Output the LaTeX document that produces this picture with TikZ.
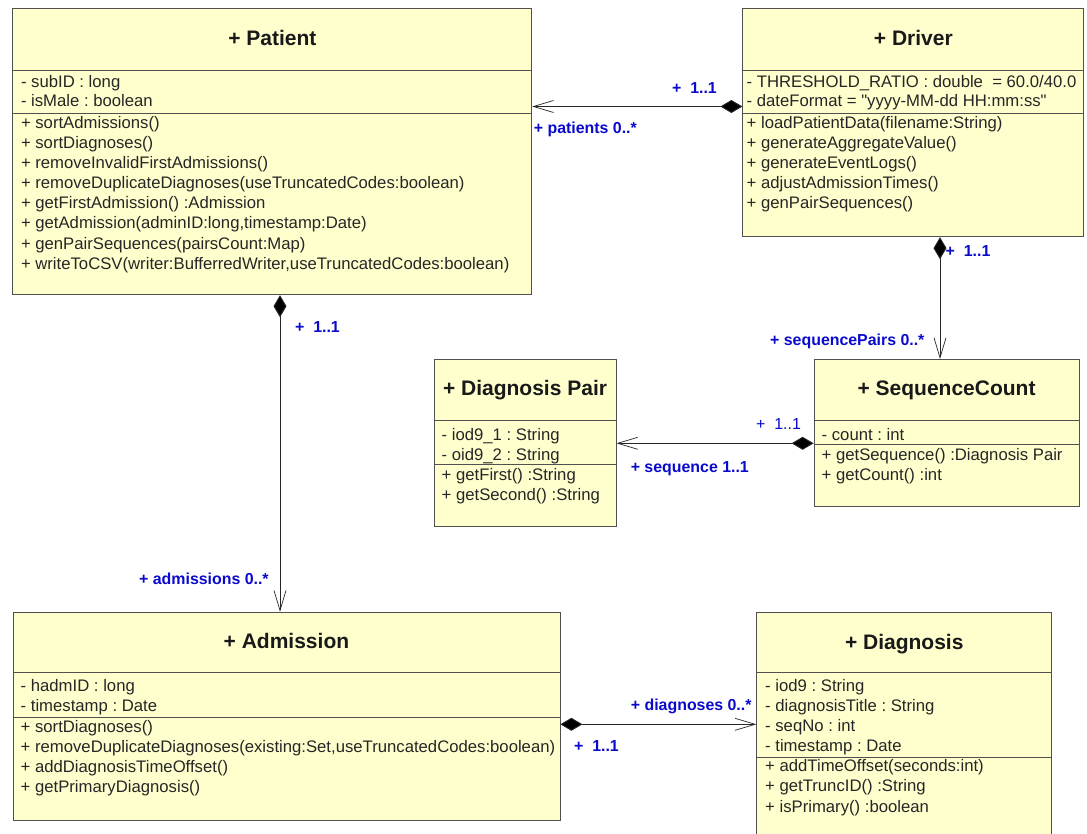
\documentclass[tikz,border=0pt]{standalone}
\usepackage{fontspec}
\setmainfont{Liberation Sans}[Ligatures=TeXOff]
\usetikzlibrary{arrows.meta}
\definecolor{clsfill}{RGB}{255,255,206}
\definecolor{boxgray}{RGB}{80,80,80}
\definecolor{umlblue}{RGB}{10,10,205}
\frenchspacing
\begin{document}
\begin{tikzpicture}[x=1pt,y=-1pt,
  cls/.style={draw=boxgray, fill=clsfill, line width=0.9pt, inner sep=0pt, anchor=north west},
  sepline/.style={draw=boxgray, line width=0.9pt},
  ttl/.style={font=\fontsize{21}{24}\selectfont\bfseries, anchor=base, inner sep=0pt, text=black!90},
  txt/.style={font=\fontsize{16.7}{20}\selectfont, anchor=base west, inner sep=0pt, text=black!85},
  lab/.style={font=\fontsize{15.9}{19}\selectfont\bfseries, anchor=base west, inner sep=0pt, text=umlblue},
  labr/.style={font=\fontsize{15.9}{19}\selectfont, anchor=base west, inner sep=0pt, text=umlblue},
  comp/.style={line width=0.9pt, draw=black!85,
    {Diamond[length=22pt,width=13pt,fill=black]}-{Straight Barb[length=20pt,width=12pt,line width=0.7pt]}}
]
\useasboundingbox (0,0) rectangle (1087,834);
\fill[white] (0,0) rectangle (1087,834);

% ---------- Patient ----------
\node[cls, minimum width=519pt, minimum height=286pt] (patient) at (12.4,8.3) {};
\draw[sepline] (patient.west |- 0,70) -- (patient.east |- 0,70);
\draw[sepline] (patient.west |- 0,113.3) -- (patient.east |- 0,113.3);
\node[ttl] (patientT) at (patient.north |- 0,45.6) {+ Patient};
\foreach \t [count=\i from 0] in {- subID : long, - isMale : boolean}
  \node[txt] (pa\i) at (20.8,87.3+19.6*\i) {\t};
\foreach \t [count=\i from 0] in {+ sortAdmissions(), + sortDiagnoses(), + removeInvalidFirstAdmissions(),
  + removeDuplicateDiagnoses(useTruncatedCodes:boolean), + getFirstAdmission() :Admission,
  {+ getAdmission(adminID:long,timestamp:Date)}, + genPairSequences(pairsCount:Map),
  {+ writeToCSV(writer:BufferredWriter,useTruncatedCodes:boolean)}}
  \node[txt] (pm\i) at (20.8,128.3+20.14*\i) {\t};

% ---------- Driver ----------
\node[cls, minimum width=341pt, minimum height=228pt] (driver) at (742.4,8.3) {};
\draw[sepline] (driver.west |- 0,70) -- (driver.east |- 0,70);
\draw[sepline] (driver.west |- 0,113.3) -- (driver.east |- 0,113.3);
\node[ttl] (driverT) at (driver.north |- 0,45.4) {+ Driver};
\node[txt] (da0) at (746.5,87.3) {- THRESHOLD\_RATIO : double\ \ = 60.0/40.0};
\node[txt] (da1) at (746.5,107) {- dateFormat = "yyyy-MM-dd HH:mm:ss"};
\foreach \t [count=\i from 0] in {+ loadPatientData(filename:String), + generateAggregateValue(),
  + generateEventLogs(), + adjustAdmissionTimes(), + genPairSequences()}
  \node[txt] (dm\i) at (746.5,128.3+20.14*\i) {\t};

% ---------- Diagnosis Pair ----------
\node[cls, minimum width=182pt, minimum height=167pt] (dpair) at (433.6,359) {};
\draw[sepline] (dpair.west |- 0,420.7) -- (dpair.east |- 0,420.7);
\draw[sepline] (dpair.west |- 0,464.3) -- (dpair.east |- 0,464.3);
\node[ttl] (dpairT) at (dpair.north |- 0,395.7) {+ Diagnosis Pair};
\foreach \t [count=\i from 0] in {- iod9\_1 : String, - oid9\_2 : String, + getFirst() :String, + getSecond() :String}
  \node[txt] (dp\i) at (441.5,440+20*\i) {\t};

% ---------- SequenceCount ----------
\node[cls, minimum width=265pt, minimum height=147pt] (seqc) at (813.6,359) {};
\draw[sepline] (seqc.west |- 0,420.7) -- (seqc.east |- 0,420.7);
\draw[sepline] (seqc.west |- 0,444.3) -- (seqc.east |- 0,444.3);
\node[ttl] (seqcT) at (seqc.north |- 0,395.7) {+ SequenceCount};
\foreach \t [count=\i from 0] in {- count : int, + getSequence() :Diagnosis Pair, + getCount() :int}
  \node[txt] (sc\i) at (821.5,440+20*\i) {\t};

% ---------- Admission ----------
\node[cls, minimum width=547pt, minimum height=208pt] (adm) at (12.5,611.7) {};
\draw[sepline] (adm.west |- 0,672.7) -- (adm.east |- 0,672.7);
\draw[sepline] (adm.west |- 0,717.3) -- (adm.east |- 0,717.3);
\node[ttl] (admT) at (adm.north |- 0,648.5) {+ Admission};
\foreach \t [count=\i from 0] in {- hadmID : long, - timestamp : Date}
  \node[txt] (aa\i) at (20.5,691.7+20*\i) {\t};
\foreach \t [count=\i from 0] in {+ sortDiagnoses(), {+ removeDuplicateDiagnoses(existing:Set,useTruncatedCodes:boolean)},
  + addDiagnosisTimeOffset(), + getPrimaryDiagnosis()}
  \node[txt] (am\i) at (20.5,732.5+20.1*\i) {\t};

% ---------- Diagnosis ----------
\node[cls, minimum width=295pt, minimum height=232pt] (diag) at (756.3,611.7) {};
\draw[sepline] (diag.west |- 0,672.7) -- (diag.east |- 0,672.7);
\draw[sepline] (diag.west |- 0,757.3) -- (diag.east |- 0,757.3);
\node[ttl] (diagT) at (diag.north |- 0,649) {+ Diagnosis};
\foreach \t [count=\i from 0] in {- iod9 : String, - diagnosisTitle : String, - seqNo : int, - timestamp : Date,
  + addTimeOffset(seconds:int), + getTruncID() :String, + isPrimary() :boolean}
  \node[txt] (dg\i) at (765,691.7+20.05*\i) {\t};

% ---------- Connectors ----------
\draw[comp] (driver.west |- 0,106.5) -- (patient.east |- 0,106.5);
\draw[comp] (patient.south -| 280,0) -- (adm.north -| 280,0);
\draw[comp] (driver.south -| 940,0) -- (seqc.north -| 940,0);
\draw[comp] (seqc.west |- 0,443.3) -- (dpair.east |- 0,443.3);
\draw[comp] (adm.east |- 0,724.3) -- (diag.west |- 0,724.3);

% ---------- Labels ----------
\node[lab] (l1) at (672,94) {+\ \ 1..1};
\node[lab] (l2) at (533.7,134) {+ patients 0..*};
\node[lab] (l3) at (945.5,256.7) {+\ \ 1..1};
\node[lab] (l4) at (770,345) {+ sequencePairs 0..*};
\node[labr] (l5) at (756,429) {+\ \ 1..1};
\node[lab] (l6) at (630.6,472.3) {+ sequence 1..1};
\node[lab] (l7) at (295,332) {+\ \ 1..1};
\node[lab] (l8) at (139,584) {+ admissions 0..*};
\node[lab] (l9) at (630.7,710) {+ diagnoses 0..*};
\node[lab] (l10) at (574,751.7) {+\ \ 1..1};
\end{tikzpicture}
\end{document}
